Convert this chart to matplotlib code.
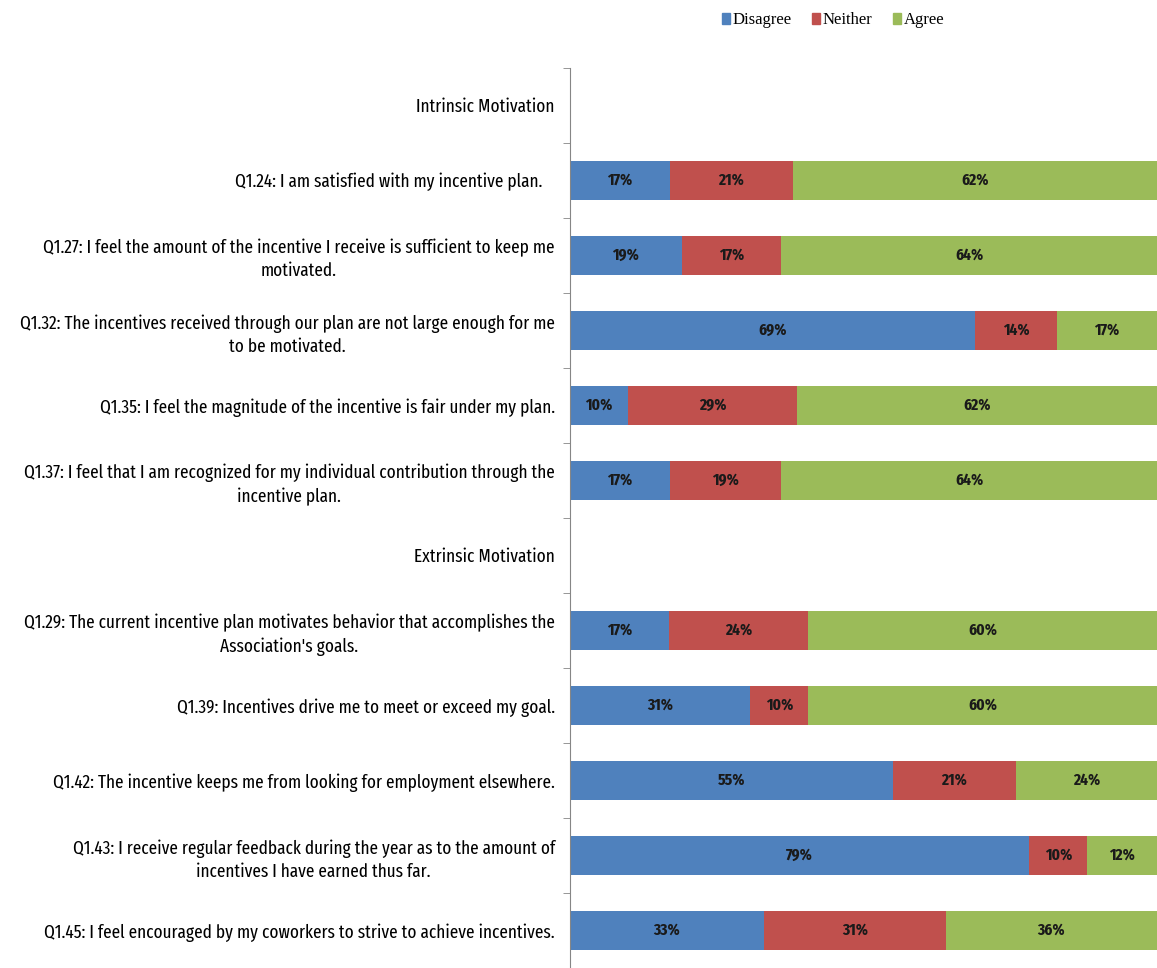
import numpy as np
import matplotlib.pyplot as plt
from matplotlib import font_manager as fm
from matplotlib.patches import Patch

# rows from top to bottom; header rows have no values
labels = [
    "Intrinsic Motivation",
    "Q1.24: I am satisfied with my incentive plan.   ",
    "Q1.27: I feel the amount of the incentive I receive is sufficient to keep me\nmotivated.",
    "Q1.32: The incentives received through our plan are not large enough for me\nto be motivated.",
    "Q1.35: I feel the magnitude of the incentive is fair under my plan.",
    "Q1.37: I feel that I am recognized for my individual contribution through the\nincentive plan.",
    "Extrinsic Motivation",
    "Q1.29: The current incentive plan motivates behavior that accomplishes the\nAssociation's goals.",
    "Q1.39: Incentives drive me to meet or exceed my goal.",
    "Q1.42: The incentive keeps me from looking for employment elsewhere.",
    "Q1.43: I receive regular feedback during the year as to the amount of\nincentives I have earned thus far.",
    "Q1.45: I feel encouraged by my coworkers to strive to achieve incentives.",
]
disagree = [np.nan, 17, 19, 69, 10, 17, np.nan, 17, 31, 55, 79, 33]
neither = [np.nan, 21, 17, 14, 29, 19, np.nan, 24, 10, 21, 10, 31]
agree = [np.nan, 62, 64, 17, 62, 64, np.nan, 60, 60, 24, 12, 36]

series = ["Disagree", "Neither", "Agree"]
colors = ["#4F81BD", "#C0504D", "#9BBB59"]

# narrow font like Arial Narrow; fall back to condensed DejaVu
try:
    fm.findfont('Fira Sans Extra Condensed', fallback_to_default=False)
    font = dict(family=['Fira Sans Extra Condensed', 'DejaVu Sans'])
    label_size, pct_size = 13.5, 12
except ValueError:
    font = dict(family=['DejaVu Sans'], stretch='condensed')
    label_size, pct_size = 10, 9

vals = np.array([disagree, neither, agree], dtype=float)
totals = np.nansum(vals, axis=0)
shares = vals / np.where(totals == 0, 1, totals)

fig = plt.figure(figsize=(11.57, 9.68), dpi=100)
ax = fig.add_axes([0.4927, 0.0, 0.5073, 0.93])

y = np.arange(len(labels))
left = np.zeros(len(labels))
for i in range(3):
    w = np.nan_to_num(shares[i])
    ax.barh(y, w, left=left, height=0.52, color=colors[i], label=series[i])
    for k in range(len(labels)):
        if not np.isnan(vals[i][k]):
            ax.text(left[k] + w[k] / 2, y[k], f"{vals[i][k]:.0f}%", ha='center', va='center',
                    fontsize=pct_size, color='#1a1a1a', fontweight='bold', **font)
    left = left + w

ax.set_ylim(len(labels) - 0.5, -0.5)
ax.set_xlim(0, 1)
ax.set_yticks(y)
ax.set_yticklabels(labels, fontsize=label_size, multialignment='center', linespacing=1.35, **font)
ax.tick_params(axis='y', which='major', length=0, pad=11)
ax.set_yticks(np.arange(len(labels) + 1) - 0.5, minor=True)
ax.tick_params(axis='y', which='minor', length=5, color='#868686')
ax.set_xticks([])
for s in ['top', 'right', 'bottom']:
    ax.spines[s].set_visible(False)
ax.spines['left'].set_color('#868686')

handles = [Patch(color=c) for c in colors]
fig.legend(handles, series, loc='center', bbox_to_anchor=(0.72, 0.979), ncol=3, frameon=False,
           prop={'family': 'Liberation Serif', 'size': 12}, handlelength=0.5, handleheight=0.7,
           handletextpad=0.15, columnspacing=1.2)

fig.savefig('out.png', dpi=100)
